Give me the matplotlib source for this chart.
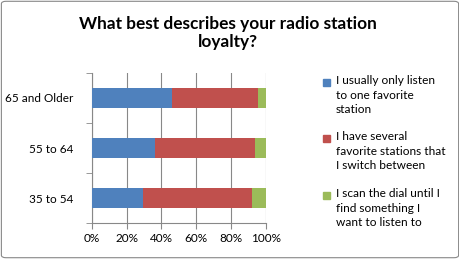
import matplotlib.pyplot as plt
from matplotlib.patches import FancyBboxPatch, Rectangle

plt.rcParams['font.family'] = ['Lato', 'DejaVu Sans']

groups = ["35 to 54", "55 to 64", "65 and Older"]
one_favorite = [29.4, 36.5, 45.9]
several = [62.6, 57.2, 49.3]
scan_dial = [8.0, 6.3, 4.8]
series_names = ["I usually only listen\nto one favorite\nstation",
                "I have several\nfavorite stations that\nI switch between",
                "I scan the dial until I\nfind something I\nwant to listen to"]
colors = ["#4F81BD", "#C0504D", "#9BBB59"]

fig = plt.figure(figsize=(4.6, 2.59), dpi=100)
ax = fig.add_axes([0.1993, 0.138, 0.379, 0.581])

left = [0] * len(groups)
for vals, col in zip([one_favorite, several, scan_dial], colors):
    ax.barh(groups, vals, left=left, color=col, height=0.4, zorder=3)
    left = [a + b for a, b in zip(left, vals)]

ax.set_xlim(0, 100)
ax.set_ylim(-0.5, 2.5)
ax.set_xticks(range(0, 101, 20))
ax.set_xticklabels([f"{v}%" for v in range(0, 101, 20)], fontsize=8.5)
ax.set_yticks([0, 1, 2])
ax.set_yticklabels(groups, fontsize=8.5)
ax.set_yticks([-0.5, 0.5, 1.5, 2.5], minor=True)
ax.tick_params(axis='y', which='major', length=0, pad=13)
ax.tick_params(axis='y', which='minor', length=4, color='#888888')
ax.tick_params(axis='x', length=4, color='#888888', pad=3)
ax.grid(axis='x', color='#888888', linewidth=0.8, zorder=0)
for s in ['top', 'right']:
    ax.spines[s].set_visible(False)
for s in ['left', 'bottom']:
    ax.spines[s].set_color('#888888')

fig.text(0.496, 0.873, "What best describes your radio station\nloyalty?",
         ha='center', va='center', fontsize=12.4, fontweight='bold',
         linespacing=1.2)

# legend, square aligned with first line of each entry
y0 = [0.683, 0.467, 0.247]
for name, col, y in zip(series_names, colors, y0):
    fig.patches.append(Rectangle((0.703, y - 0.014), 0.015, 0.027,
                                 transform=fig.transFigure, color=col))
    fig.text(0.730, y + 0.026, name, ha='left', va='top', fontsize=8.6,
             linespacing=1.38)

fig.patches.append(FancyBboxPatch((0.003, 0.005), 0.994, 0.99,
                                  boxstyle="round,pad=0,rounding_size=0.01",
                                  transform=fig.transFigure, fill=False,
                                  edgecolor='#888888', linewidth=0.8))

fig.savefig("out.png", dpi=100)
